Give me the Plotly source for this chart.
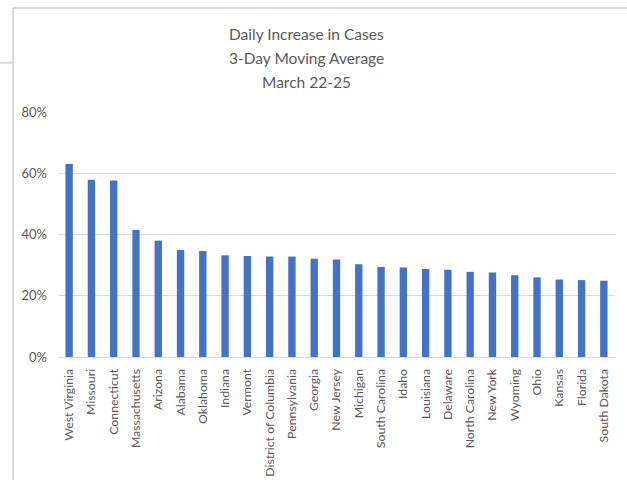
import plotly.graph_objects as go

states = ["West Virginia", "Missouri", "Connecticut", "Massachusetts", "Arizona",
          "Alabama", "Oklahoma", "Indiana", "Vermont", "District of Columbia",
          "Pennsylvania", "Georgia", "New Jersey", "Michigan", "South Carolina",
          "Idaho", "Louisiana", "Delaware", "North Carolina", "New York",
          "Wyoming", "Ohio", "Kansas", "Florida", "South Dakota"]
increase = [0.630, 0.579, 0.576, 0.415, 0.380,
            0.349, 0.346, 0.332, 0.330, 0.328,
            0.328, 0.321, 0.318, 0.303, 0.294,
            0.292, 0.287, 0.285, 0.278, 0.276,
            0.267, 0.260, 0.253, 0.251, 0.249]
y_ticks = [0, 0.2, 0.4, 0.6, 0.8]
title_lines = ["Daily Increase in Cases", "3-Day Moving Average", "March 22-25"]

FONT = "Lato"
GRAY = "#595959"
GRID = "#d9d9d9"
BORDER = "#d9d9d9"

fig = go.Figure(go.Bar(
    x=states, y=increase,
    marker=dict(color="#4472C4", line=dict(width=0)),
))

L, R, T, B = 58, 12, 111.5, 123.5
W, H = 627, 481
pw, ph = W - L - R, H - T - B

def px_x(px):
    return (px - L) / pw

def px_y(py):
    return (H - B - py) / ph

title_centers = [33, 57, 81]
annotations = [
    dict(text=line, xref="paper", yref="paper",
         x=px_x(306), y=px_y(cy), xanchor="center", yanchor="middle",
         showarrow=False, font=dict(family=FONT, size=15.5, color=GRAY))
    for line, cy in zip(title_lines, title_centers)
]

def seg(x0, y0, x1, y1):
    return dict(type="line", xref="paper", yref="paper",
                x0=px_x(x0), x1=px_x(x1), y0=px_y(y0), y1=px_y(y1),
                line=dict(color=BORDER, width=2))

fig.update_layout(
    width=W, height=H,
    margin=dict(l=L, r=R, t=T, b=B, pad=0, autoexpand=False),
    paper_bgcolor="white", plot_bgcolor="white",
    bargap=0.67,
    showlegend=False,
    font=dict(family=FONT, color=GRAY, size=12),
    annotations=annotations,
    xaxis=dict(
        tickangle=-90, ticks="", showgrid=False, automargin=False,
        showline=True, linecolor=GRID, linewidth=1,
        ticklabelstandoff=6,
        tickfont=dict(family=FONT, size=12.3, color=GRAY),
    ),
    yaxis=dict(
        range=[0, 0.8], tickvals=y_ticks, tickformat=".0%",
        showgrid=True, gridcolor=GRID, gridwidth=1, automargin=False,
        zeroline=False, showline=False, ticks="",
        ticklabelstandoff=10,
        tickfont=dict(family=FONT, size=13, color=GRAY),
    ),
    shapes=[
        seg(13, 7, 13, H),
        seg(13, 7, W, 7),
        seg(0, 62, 13, 62),
    ],
)

fig.write_html(
    "out.html",
    config={"displayModeBar": False},
    post_script="document.body.style.margin='0';document.body.style.overflow='hidden';",
)
